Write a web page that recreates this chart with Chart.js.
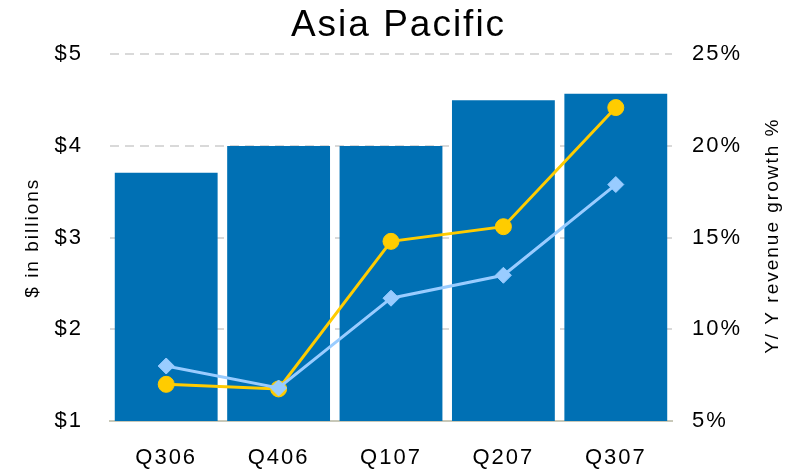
<!DOCTYPE html>
<html>
<head>
<meta charset="utf-8">
<script src="https://cdn.jsdelivr.net/npm/chart.js@4.4.0/dist/chart.umd.min.js"></script>
<style>
html, body { margin: 0; padding: 0; background: #fff; }
</style>
</head>
<body>
<canvas id="grafico" width="797" height="470"></canvas>
<script>
// Datos
var trimestres = ["Q306", "Q406", "Q107", "Q207", "Q307"];
var ingresos = [3.71, 4.0, 4.0, 4.5, 4.57];          // $ en miles de millones (barras)
var crecimientoAmarillo = [7.0, 6.75, 14.8, 15.6, 22.1]; // % Y/Y (circulos)
var crecimientoCeleste = [8.0, 6.8, 11.7, 12.95, 17.9];  // % Y/Y (rombos)
var ticksDolares = [1, 2, 3, 4, 5];
var ticksPorcentaje = [5, 10, 15, 20, 25];
var tituloDerecho = 'Y/ Y revenue growth %';

var fuente = "'Liberation Sans', Arial, sans-serif";

// Espaciado entre letras como en el original
var espaciado = {
    id: 'espaciado',
    beforeLayout: function(chart) { chart.ctx.letterSpacing = '2px'; },
    beforeDraw: function(chart) { chart.ctx.letterSpacing = '2px'; }
};

// El titulo del eje derecho se lee de abajo hacia arriba, como el izquierdo
var tituloEjeDerecho = {
    id: 'tituloEjeDerecho',
    afterDraw: function(chart) {
        var c = chart.ctx;
        var area = chart.chartArea;
        c.save();
        c.letterSpacing = '2px';
        c.font = '19px ' + fuente;
        c.fillStyle = '#000';
        c.textAlign = 'center';
        c.textBaseline = 'middle';
        c.translate(773, (area.top + area.bottom) / 2 - 2);
        c.rotate(-Math.PI / 2);
        c.fillText(tituloDerecho, 0, 0);
        c.restore();
    }
};

var ctx = document.getElementById('grafico').getContext('2d');
window.myChart = new Chart(ctx, {
    data: {
        labels: trimestres,
        datasets: [{
            type: 'line',
            label: 'Crecimiento celeste',
            data: crecimientoCeleste,
            yAxisID: 'y1',
            borderColor: '#99CCFF',
            backgroundColor: '#99CCFF',
            borderWidth: 3,
            pointStyle: 'rectRot',
            pointRadius: 8,
            pointBorderWidth: 1,
            tension: 0,
            order: 1
        }, {
            type: 'line',
            label: 'Crecimiento amarillo',
            data: crecimientoAmarillo,
            yAxisID: 'y1',
            borderColor: '#FFCC00',
            backgroundColor: '#FFCC00',
            borderWidth: 3,
            pointStyle: 'circle',
            pointRadius: 8,
            pointBorderWidth: 1,
            tension: 0,
            order: 2
        }, {
            type: 'bar',
            label: 'Ingresos',
            data: ingresos,
            yAxisID: 'y',
            backgroundColor: '#0070B4',
            categoryPercentage: 1,
            barPercentage: 0.915,
            order: 3
        }]
    },
    plugins: [espaciado, tituloEjeDerecho],
    options: {
        responsive: false,
        animation: false,
        layout: { padding: 0 },
        plugins: {
            legend: { display: false },
            tooltip: { enabled: false },
            title: {
                display: true,
                text: 'Asia Pacific',
                color: '#000',
                font: { family: fuente, size: 37, weight: 'normal' },
                padding: { top: 4, bottom: 6 }
            }
        },
        scales: {
            x: {
                offset: true,
                grid: { display: false, drawTicks: false },
                border: { display: true, color: '#C8C8B8', width: 2 },
                ticks: {
                    color: '#000',
                    font: { family: fuente, size: 22 },
                    padding: 24,
                    maxRotation: 0
                },
                afterFit: function(scale) { scale.height = 49; }
            },
            y: {
                position: 'left',
                min: 1,
                max: 5,
                afterBuildTicks: function(scale) {
                    scale.ticks = ticksDolares.map(function(v) { return { value: v }; });
                },
                grid: {
                    color: function(c) { return c.tick.value === 1 ? 'rgba(0,0,0,0)' : '#D9D9D9'; },
                    lineWidth: 2,
                    drawTicks: false
                },
                border: { display: false, dash: [9, 6] },
                ticks: {
                    color: '#000',
                    font: { family: fuente, size: 22 },
                    padding: 27,
                    callback: function(v) { return '$' + v; }
                },
                title: {
                    display: true,
                    text: '$ in billions',
                    color: '#000',
                    font: { family: fuente, size: 19 },
                    padding: { top: 21, bottom: 0 }
                },
                afterFit: function(scale) { scale.width = 110; }
            },
            y1: {
                position: 'right',
                min: 5,
                max: 25,
                afterBuildTicks: function(scale) {
                    scale.ticks = ticksPorcentaje.map(function(v) { return { value: v }; });
                },
                grid: { display: false, drawTicks: false },
                border: { display: false },
                ticks: {
                    color: '#000',
                    font: { family: fuente, size: 22 },
                    padding: 20,
                    callback: function(v) { return v + '%'; }
                },
                afterFit: function(scale) { scale.width = 125; }
            }
        }
    }
});
</script>
</body>
</html>
